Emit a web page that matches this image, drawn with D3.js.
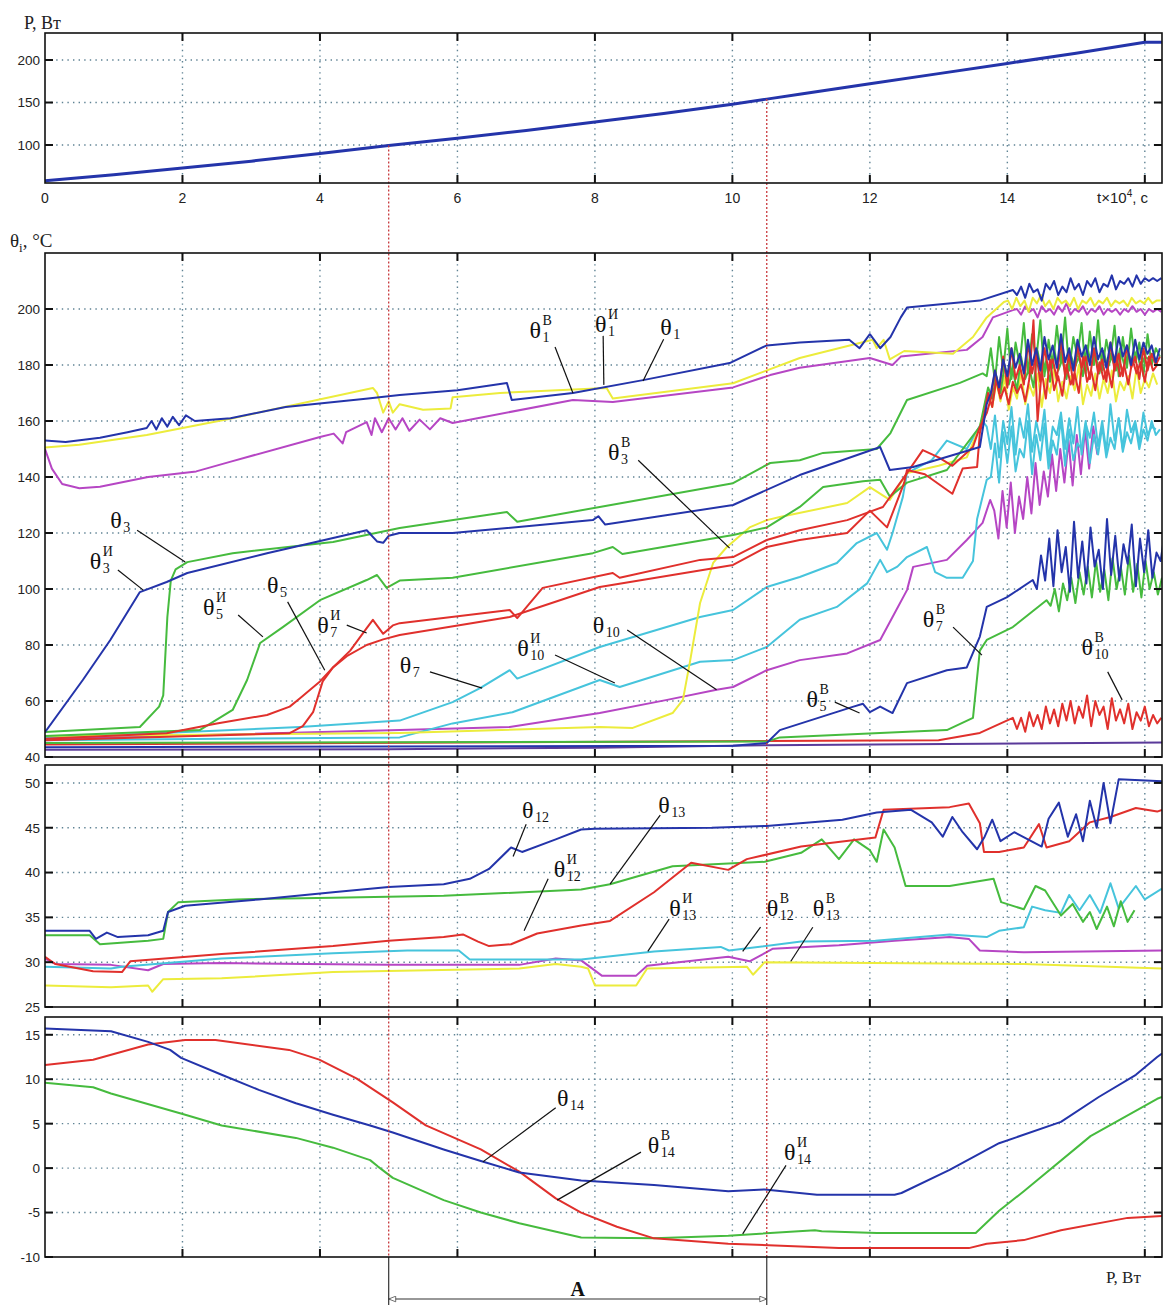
<!DOCTYPE html>
<html>
<head>
<meta charset="utf-8">
<script src="https://cdn.jsdelivr.net/npm/d3@7"></script>
<style>
  body { margin: 0; background: #fff; }
</style>
</head>
<body>
<svg id="chart" width="1165" height="1305"></svg>
<script>
const T_MAX = 16.25
const BLUE = "#2434aa", GREEN = "#46bb3e", RED = "#e0302c", YELLOW = "#ecec3c",
  MAGENTA = "#b646c4", CYAN = "#46c4dc", PURPLE = "#5a3a9a"
const SERIF = "'Liberation Serif','Times New Roman',serif"
const SANS = "'Liberation Sans',Arial,sans-serif"
const TAIL_STEP = 0.06

// top panel: power vs time
const powerT = [0, 1, 2, 3, 4, 5, 6, 7, 8, 9, 10, 10.5, 11, 12, 13, 14, 15, 16, 16.25]
const powerP = [58, 65, 73, 81, 90, 99.5, 108, 117, 127, 137, 148, 154, 160, 172, 184, 196, 208, 221, 221]

const xTickLabels = [0, 2, 4, 6, 8, 10, 12, 14]
const xGrid = [2, 4, 6, 8, 10, 12, 14, 16]
const pTicks = [100, 150, 200]
const thTicks = [40, 60, 80, 100, 120, 140, 160, 180, 200]
const midTicks = [25, 30, 35, 40, 45, 50]
const lowTicks = [-10, -5, 0, 5, 10, 15]
const markT = [5, 10.5]

// panel 2 series: [t, °C]
const th1 = [[0,153],[0.3,152.5],[0.8,154],[1.2,156],[1.48,157.5],[1.55,160],[1.62,157],[1.7,161],[1.78,158],[1.86,161.5],[1.95,158.5],[2.05,162],[2.18,160],[2.7,161],[3.5,165],[4.7,168],[5.16,169.3],[6.0,171],[6.72,173.6],[6.79,167.5],[7.68,170],[8.7,174.6],[9.96,180.7],[10.5,187],[10.98,188],[11.7,189],[11.85,186],[12.0,191],[12.15,186],[12.3,190],[12.45,197],[12.54,200.5],[13.6,203],[14.08,206.8]]
const th1Tail = [205,208,204,209,206,207,203,209,207,210,205,208,206,211,207,209,205,210,208,211,206,209,208,212,207,210,209,211,208,212,209,211,210,211,210,211]
const th1B = [[0,150.5],[0.5,151.5],[1.48,155],[2.73,161],[4.77,171.8],[4.83,170],[4.92,163],[5.0,167],[5.06,163],[5.16,166],[5.5,164],[5.9,164.5],[5.93,168.5],[6.62,170],[8.17,171.8],[8.26,168],[10.01,173.5],[10.98,182.5],[12.04,189],[12.1,186],[12.2,189],[12.29,182],[12.5,185],[13.21,184],[13.5,190],[13.7,197],[13.95,202.5]]
const th1BTail = [203,200,204,201,203,199,204,202,205,201,203,200,204,202,203,201,204,200,203,202,204,201,203,202,204,201,203,202,203,201,204,202,203,202,204,202,203,203]
const th1I = [[0,150],[0.1,143],[0.25,137.5],[0.5,136],[0.8,136.5],[1.5,140],[2.2,142],[2.69,145.4],[4.0,154.3],[4.2,155.5],[4.33,152],[4.38,156],[4.68,159.6],[4.75,155],[4.8,161],[4.9,156],[5.0,161],[5.1,157],[5.2,161],[5.3,156.5],[5.45,160.5],[5.6,157],[5.75,161],[5.93,159.3],[7.68,167.5],[8.26,166.8],[10.01,172],[10.55,176.4],[10.98,179],[12.0,182.5],[12.33,180],[12.45,183],[13.41,185.4],[13.64,190],[13.79,197],[14.08,199.6]]
const th1ITail = [200,198,201,199,200,197,201,199,200,198,201,199,202,198,200,199,201,198,200,199,201,198,200,199,200,198,200,199,201,199,200,198,200,199,200,199]
const th3 = [[0,48.9],[1.38,50.7],[1.66,58],[1.72,62],[1.78,90],[1.83,103],[1.9,107],[2.07,109.6],[2.73,112.8],[4.19,116.8],[5.16,121.8],[6.72,127.5],[6.87,124],[8.07,129.3],[10.01,137.8],[10.55,145],[10.98,146],[11.32,148.6],[12.1,150],[12.3,155.7],[12.54,167.5],[13.31,173.6],[13.64,177]]
const th3Tail = [176,186,174,190,178,193,175,188,180,195,177,191,182,196,176,189,179,194,181,197,178,190,183,195,177,192,180,196,178,189,182,194,176,190,179,193,181,188,176,191,180,186,183]
const th3I = [[0,48.9],[0.55,67.5],[0.95,81.8],[1.38,98.9],[1.77,102.5],[2.07,105.7],[3.23,112.8],[4.68,121],[4.83,117],[4.92,116.5],[5.0,119],[5.16,120],[5.93,120],[7.97,124.6],[8.05,126],[8.15,123],[10.01,130],[10.98,140.7],[12.15,150.7],[12.29,142.5],[12.63,143.6],[13.6,150.7],[13.7,166]]
const th3ITail = [170,178,172,182,176,186,179,184,177,189,180,186,178,190,182,187,179,191,181,186,178,189,183,187,180,190,182,186,179,188,181,190,183,187,180,189,182,188,184,187,181,186]
const th5I = [[0,47.5],[2.25,49.6],[2.73,56.8],[2.94,67.5],[3.13,80.7],[3.46,86.4],[4.0,96],[4.68,103.2],[4.83,105],[4.97,100.4],[5.16,103],[5.93,104],[7.97,112.8],[8.26,115],[8.4,112.5],[10.01,119.3],[10.5,122],[10.98,129.3],[11.32,136.4],[11.9,138.5],[12.15,139],[12.29,133],[12.54,138],[13.12,142.5],[13.6,158]]
const th5ITail = [165,172,168,176,170,180,173,178,171,183,175,179,172,185,177,181,174,186,178,182,175,184,179,183,176,187,180,184,177,185,179,183,178,186,180,184,181,185,179,183,182,184,180]
const th7I = [[0,46.5],[1.77,48.5],[2.5,52],[3.23,55],[3.56,58],[3.71,61],[4.0,67],[4.19,72],[4.44,78],[4.68,86],[4.77,89],[4.92,84],[5.06,87],[5.16,87.8],[6.76,92.5],[6.87,89.6],[7.24,100.4],[8.26,105.7],[8.36,104],[9.53,110.4],[10.01,111.4],[10.5,117.5],[10.98,121],[11.67,124.6],[12.19,129.3],[12.54,141.4],[12.77,149.6],[13.0,147],[13.2,144],[13.5,150.7],[13.6,157.9],[13.7,162.8]]
const th7ITail = [168,178,170,183,172,186,175,180,173,188,177,184,174,186,178,182,175,189,176,184,173,187,179,183,175,186,177,182,174,188,178,184,176,187,179,183,175,186,178,184,180,183]
const th5 = [[0,46],[3.56,48.5],[3.75,51],[3.9,56],[4.04,67],[4.19,72],[4.39,76],[4.68,80],[4.92,82],[5.16,83.6],[6.76,90],[8.07,100.7],[10.01,108.6],[10.5,115],[10.98,117.5],[11.67,120],[12.0,128],[12.25,122],[12.5,138],[12.54,142.5],[12.8,141],[13.2,134],[13.35,143],[13.56,143.6],[13.6,155.7]]
const th5Tail = [162,170,165,175,168,172,166,174,170,173,167,175,196,160,178,168,182,171,176,169,180,173,177,170,183,174,178,171,181,175,179,172,184,176,180,173,182,177,181,174,183,178,180]
const th3B = [[0,47.5],[5.16,48.6],[8.07,50.7],[8.55,50.4],[9.13,55.7],[9.28,60.4],[9.38,73.6],[9.53,95],[9.72,109.3],[9.92,115],[10.25,122],[10.5,124.6],[10.69,125.7],[11.67,130.7],[12.0,136.4],[12.29,131.8],[12.54,141.4],[13.0,144],[13.41,147],[13.6,158]]
const th3BTail = [163,170,165,174,167,176,164,172,168,178,166,173,169,177,165,175,170,179,167,174,168,176,171,180,166,173,169,177,168,175,170,178,167,174,171,176,168,179,170,175,172,177,173]
const th7 = [[0,46.8],[3.71,50.7],[5.16,53],[5.93,59.6],[6.33,64.6],[6.76,71],[6.87,68],[8.07,79.3],[9.53,90],[10.01,92.5],[10.5,100.7],[10.98,104.3],[11.52,109.3],[11.81,116.4],[12.1,120],[12.25,114],[12.33,120],[12.48,132.9],[12.54,141.4],[12.9,146],[13.12,153],[13.41,150],[13.64,160]]
const th7Tail = [158,150,162,147,160,152,165,148,161,154,166,149,160,153,164,146,158,155,163,150,161,152,165,148,159,154,163,151,160,149,166,153,161,150,164,156,160,152,163,155,158,157]
const th10I = [[0,46],[5.16,47],[5.93,52],[6.8,56],[8.07,67.5],[8.36,65],[9.53,74],[10.01,74.6],[10.5,79.3],[10.98,89],[11.52,93.6],[11.96,102],[12.15,110.4],[12.25,106],[12.4,108],[12.54,111.4],[12.83,115],[12.95,106],[13.12,104],[13.35,104],[13.5,110],[13.56,125],[13.7,139]]
const th10ITail = [140,152,138,156,145,158,142,150,147,160,141,155,146,159,143,153,148,161,144,157,146,152,150,160,145,155,148,158,147,154,150,161,149,156,152,159,150,157,153,160,155,157]
const th10 = [[0,46.5],[5.16,49.6],[6.76,50.7],[8.07,55.7],[9.05,60.4],[9.77,64],[10.01,65],[10.5,71],[10.98,74.6],[11.67,77],[12.15,81.8],[12.33,90],[12.54,99.6],[12.63,107.9],[13.12,110.4],[13.41,117.5],[13.64,123.6],[13.75,131.8]]
const th10Tail = [128,118,135,122,138,120,133,125,140,127,145,130,142,133,148,135,150,138,153,137,155,141,157,143,158,148]
const th5B = [[0,43.5],[10.01,44],[10.5,45],[10.69,49.6],[11.75,57.9],[11.9,59],[12.0,56],[12.15,58],[12.33,55.7],[12.54,66.4],[13.12,71],[13.41,72],[13.6,83],[13.7,93.6],[13.99,97],[14.37,103.2]]
const th5BTail = [100,112,103,118,101,121,106,115,99,124,104,117,102,122,108,114,100,125,105,119,103,116,109,123,101,118,106,121,104,113,110,120]
const th7B = [[0,45],[10.5,45.5],[10.69,47],[13.12,49.6],[13.5,54],[13.6,78],[13.7,81.8],[14.08,86.4],[14.57,96]]
const th7BTail = [94,100,92,102,96,104,95,106,98,108,97,110,99,107,96,111,100,108,98,112,99,109,97,110,100,106,98,104]
const th10B = [[0,44.5],[13.0,46],[13.6,48.6],[14.08,54]]
const th10BTail = [50,54,49,56,51,55,50,58,52,57,51,59,53,60,52,58,54,62,51,60,55,58,50,61,53,57,52,59,50,56,53,58,51,55,52,54]
const thBase = [[0,42.6],[5,42.8],[8,43.3],[10.5,44.2],[16.25,45.2]]

// panel 3 series
const th12 = [[0,33.5],[0.65,33.5],[0.74,32.6],[0.9,33.3],[1.06,32.8],[1.5,33],[1.72,33.5],[1.79,35.6],[2.04,36.3],[3.11,37],[4.19,37.8],[5.0,38.4],[5.8,38.7],[6.18,39.3],[6.46,40.4],[6.78,42.8],[6.94,42.3],[7.43,43.7],[7.8,44.8],[8.0,44.9],[9.7,45],[10.5,45.2],[11.6,45.9],[12.1,46.7],[12.6,47],[12.9,45.6],[13.06,44],[13.2,46.2],[13.35,44.5],[13.56,42.6],[13.67,44],[13.78,45.9],[13.9,43.5],[14.1,44.5],[14.5,42.9],[14.6,46],[14.75,47.8],[14.88,44],[15.0,46.5],[15.1,43.5],[15.2,48],[15.3,45],[15.4,50],[15.5,45.5],[15.62,50.4],[16.25,50.2]]
const th13 = [[0,33],[0.65,33],[0.8,32],[1.5,32.4],[1.72,32.6],[1.79,35.6],[1.94,36.7],[2.79,37],[4.19,37.2],[5.8,37.4],[7.8,38.1],[8.22,38.7],[9.13,40.7],[10.47,41.2],[11.0,42.2],[11.3,43.7],[11.55,41.5],[11.77,43.7],[12.0,42.5],[12.1,41.2],[12.2,44.8],[12.36,42.8],[12.52,38.5],[13.16,38.5],[13.8,39.3],[13.91,36.7],[14.24,35.9],[14.41,38.5],[14.55,38],[14.78,35.2],[14.95,36.5],[15.1,34.5],[15.2,35.6],[15.3,33.7],[15.45,36.2],[15.55,34],[15.65,36.8],[15.75,34.5],[15.85,35.8]]
const th12I = [[0,30.6],[0.15,29.8],[0.7,29],[1.12,28.9],[1.24,30.1],[2.57,30.9],[4.19,31.8],[5.0,32.4],[5.8,32.8],[6.08,33.1],[6.3,32.3],[6.46,31.8],[6.78,32],[7.16,33.2],[7.8,34.1],[8.22,34.6],[8.86,37.8],[9.4,41.1],[9.94,40.3],[10.21,41.5],[11.0,42.9],[12.08,43.9],[12.2,47],[13.16,47.3],[13.44,47.7],[13.6,45.5],[13.66,42.3],[13.88,42.3],[14.24,42.8],[14.46,45.4],[14.57,42.8],[14.9,43.5],[15.2,45.6],[15.5,46.2],[15.87,47.2],[16.18,46.8],[16.25,47]]
const th13I = [[0,29.5],[0.96,29.3],[1.12,29.5],[2.57,30.4],[4.19,31],[5.27,31.3],[6.02,31.3],[6.18,30.3],[7.8,30.3],[8.86,31.2],[9.83,31.7],[9.95,31.3],[11.0,32.3],[12.08,32.4],[13.16,33.1],[13.7,32.8],[13.88,33.5],[14.24,33.9],[14.36,36.2],[14.55,35.8],[14.78,35.5],[14.9,37.5],[15.05,35.8],[15.2,37.5],[15.35,35.5],[15.5,38.8],[15.62,36],[15.87,38.5],[16.0,37],[16.25,38.2]]
const th12B = [[0,30.4],[0.15,29.8],[0.96,29.7],[1.5,29.1],[1.72,29.8],[2.57,29.9],[5.0,29.7],[6.9,29.7],[7.43,30.4],[7.8,30.2],[8.1,28.5],[8.6,28.5],[8.76,29.6],[9.94,30.6],[10.25,30.1],[10.59,31.5],[11.55,31.9],[12.36,32.4],[13.16,32.8],[13.44,32.6],[13.6,31.3],[14.24,31.1],[16.25,31.3]]
const th13B = [[0,27.4],[0.96,27.2],[1.5,27.4],[1.56,26.7],[1.72,28.1],[2.57,28.2],[4.19,28.9],[6.9,29.3],[7.43,29.8],[7.8,29.5],[7.9,29.3],[8.0,27.4],[8.6,27.4],[8.76,29.3],[10.21,29.5],[10.3,28.6],[10.47,30],[14.24,29.8],[16.25,29.3]]

// panel 4 series
const th14 = [[0,15.7],[0.96,15.4],[1.5,14.2],[1.82,13.3],[1.98,12.4],[2.57,10.5],[3.11,8.8],[3.65,7.3],[4.19,6],[4.73,4.8],[5.06,4],[5.8,2.1],[6.34,0.8],[6.9,-0.5],[7.8,-1.4],[8.86,-1.9],[9.94,-2.6],[10.47,-2.4],[11.23,-3],[12.36,-3],[12.46,-2.8],[13.16,-0.2],[13.88,2.8],[14.78,5.2],[15.33,8],[15.87,10.5],[16.18,12.5],[16.25,12.9]]
const th14B = [[0,11.6],[0.7,12.2],[1.5,13.9],[2.04,14.4],[2.48,14.4],[3.55,13.3],[3.99,12.2],[4.53,10.1],[5.06,7.4],[5.54,4.8],[6.34,2.1],[6.9,-0.4],[7.43,-3.4],[7.8,-5],[8.32,-6.6],[8.86,-7.9],[9.94,-8.5],[11.55,-9],[13.44,-9],[13.7,-8.5],[14.24,-8.1],[14.78,-7],[15.75,-5.6],[16.25,-5.4]]
const th14I = [[0,9.6],[0.7,9.1],[0.96,8.4],[2.04,6],[2.57,4.8],[3.65,3.4],[4.19,2.3],[4.73,0.9],[4.84,0.2],[5.06,-1.1],[5.8,-3.6],[6.34,-5],[6.9,-6.2],[7.8,-7.8],[8.86,-7.9],[9.94,-7.6],[11.2,-7],[11.3,-7.1],[12.1,-7.3],[13.54,-7.3],[13.88,-4.8],[14.24,-2.6],[15.21,3.6],[16.18,7.8],[16.25,8]]

// labels: θ position, leader from / to, all in data units
const labels2 = [
  {t: 7.05, v: 189.6, sub: "1", sup: "В", from: [7.42, 186.4], to: [7.68, 170]},
  {t: 8.0, v: 191.8, sub: "1", sup: "И", from: [8.12, 190.4], to: [8.13, 172.9]},
  {t: 8.95, v: 190.7, sub: "1", sup: "", from: [9.0, 189.2], to: [8.7, 174.3]},
  {t: 8.19, v: 146, sub: "3", sup: "В", from: [8.63, 146], to: [9.96, 114.6]},
  {t: 0.95, v: 121.8, sub: "3", sup: "", from: [1.34, 121], to: [2.04, 109.6]},
  {t: 0.65, v: 107.1, sub: "3", sup: "И", from: [1.06, 106.8], to: [1.43, 99.6]},
  {t: 2.3, v: 90.7, sub: "5", sup: "И", from: [2.81, 90.7], to: [3.17, 82.9]},
  {t: 3.23, v: 98.6, sub: "5", sup: "", from: [3.53, 95.4], to: [4.07, 71]},
  {t: 3.96, v: 84.3, sub: "7", sup: "И", from: [4.39, 87.1], to: [4.68, 84.3]},
  {t: 5.16, v: 70, sub: "7", sup: "", from: [5.6, 70.4], to: [6.36, 64.6]},
  {t: 6.87, v: 76, sub: "10", sup: "И", from: [7.42, 76.4], to: [8.29, 66.4]},
  {t: 7.97, v: 84.3, sub: "10", sup: "", from: [8.47, 85.4], to: [9.77, 64]},
  {t: 12.77, v: 86.4, sub: "7", sup: "В", from: [13.21, 86.4], to: [13.63, 76.4]},
  {t: 11.08, v: 57.9, sub: "5", sup: "В", from: [11.49, 59.6], to: [11.85, 55.7]},
  {t: 15.08, v: 76.4, sub: "10", sup: "В", from: [15.46, 70.4], to: [15.67, 60.4]}
]
const labels3 = [
  {t: 6.94, v: 46.1, sub: "12", sup: "", from: [7.0, 45.4], to: [6.81, 41.8]},
  {t: 8.92, v: 46.7, sub: "13", sup: "", from: [8.95, 46.4], to: [8.22, 38.7]},
  {t: 7.4, v: 39.5, sub: "12", sup: "И", from: [7.32, 39.3], to: [6.97, 33.5]},
  {t: 9.08, v: 35.2, sub: "13", sup: "И", from: [9.08, 34.8], to: [8.77, 31.2]},
  {t: 10.5, v: 35.2, sub: "12", sup: "В", from: [10.41, 33.9], to: [10.15, 31.2]},
  {t: 11.17, v: 35.2, sub: "13", sup: "В", from: [11.17, 33.9], to: [10.85, 30.1]}
]
const labels4 = [
  {t: 7.45, v: 7, sub: "14", sup: "", from: [7.43, 6.8], to: [6.37, 0.7]},
  {t: 8.77, v: 1.7, sub: "14", sup: "В", from: [8.67, 1.8], to: [7.45, -3.6]},
  {t: 10.75, v: 0.9, sub: "14", sup: "И", from: [10.78, 0.3], to: [10.15, -7.4]}
]

function withTail(pts, tail) {
  if (!tail) return pts
  const t0 = pts[pts.length - 1][0] + TAIL_STEP
  return pts.concat(tail.map((v, i) => [t0 + i * TAIL_STEP, v]))
}

const panels = [
  {top: 33, bottom: 183, domain: [55.3, 231.8], ticks: pTicks, labels: [],
    series: [{d: powerT.map((t, i) => [t, powerP[i]]), c: BLUE, w: 3}]},
  {top: 253, bottom: 757, domain: [40, 220], ticks: thTicks, labels: labels2,
    series: [
      {d: thBase, c: PURPLE}, {d: withTail(th10B, th10BTail), c: RED},
      {d: withTail(th7B, th7BTail), c: GREEN}, {d: withTail(th5B, th5BTail), c: BLUE},
      {d: withTail(th10, th10Tail), c: MAGENTA}, {d: withTail(th10I, th10ITail), c: CYAN},
      {d: withTail(th7, th7Tail), c: CYAN}, {d: withTail(th3B, th3BTail), c: YELLOW},
      {d: withTail(th5I, th5ITail), c: GREEN}, {d: withTail(th3, th3Tail), c: GREEN},
      {d: withTail(th5, th5Tail), c: RED}, {d: withTail(th7I, th7ITail), c: RED},
      {d: withTail(th3I, th3ITail), c: BLUE}, {d: withTail(th1I, th1ITail), c: MAGENTA},
      {d: withTail(th1B, th1BTail), c: YELLOW}, {d: withTail(th1, th1Tail), c: BLUE}
    ]},
  {top: 765, bottom: 1007, domain: [25, 52], ticks: midTicks, labels: labels3,
    series: [
      {d: th13B, c: YELLOW}, {d: th12B, c: MAGENTA}, {d: th13I, c: CYAN},
      {d: th13, c: GREEN}, {d: th12I, c: RED}, {d: th12, c: BLUE}
    ]},
  {top: 1017, bottom: 1257, domain: [-10, 17], ticks: lowTicks, labels: labels4,
    series: [{d: th14I, c: GREEN}, {d: th14B, c: RED}, {d: th14, c: BLUE}]}
]

const svg = d3.select("#chart")
const x = d3.scaleLinear().domain([0, T_MAX]).range([45, 1162])
const defs = svg.append("defs")

panels.forEach((p, i) => {
  p.y = d3.scaleLinear().domain(p.domain).range([p.bottom, p.top])
  defs.append("clipPath").attr("id", "clip" + i).append("rect")
    .attr("x", x(0)).attr("y", p.top).attr("width", x(T_MAX) - x(0)).attr("height", p.bottom - p.top)

  const g = svg.append("g")
  // grid
  g.selectAll(".vg").data(xGrid).enter().append("line")
    .attr("x1", d => x(d)).attr("x2", d => x(d)).attr("y1", p.top).attr("y2", p.bottom)
    .attr("stroke", "#5f8394").attr("stroke-width", 1.4).attr("stroke-dasharray", "1.4,4.2")
  g.selectAll(".hg").data(p.ticks.filter(v => v > p.domain[0] + 0.5)).enter().append("line")
    .attr("x1", x(0)).attr("x2", x(T_MAX)).attr("y1", d => p.y(d)).attr("y2", d => p.y(d))
    .attr("stroke", "#5f8394").attr("stroke-width", 1.4).attr("stroke-dasharray", "1.4,4.2")

  const line = d3.line().x(d => x(d[0])).y(d => p.y(d[1]))
  g.append("g").attr("clip-path", `url(#clip${i})`)
    .selectAll("path").data(p.series).enter().append("path")
    .attr("d", s => line(s.d)).attr("fill", "none")
    .attr("stroke", s => s.c).attr("stroke-width", s => s.w || 2)
    .attr("stroke-linejoin", "round")
})

// red dotted markers from the power curve down through all panels
const pY = panels[0].y
const powerAt = t => d3.scaleLinear().domain(powerT).range(powerP)(t)
svg.selectAll(".mark").data(markT).enter().append("line")
  .attr("x1", d => x(d)).attr("x2", d => x(d))
  .attr("y1", d => pY(powerAt(d))).attr("y2", panels[3].bottom)
  .attr("stroke", "#c8383c").attr("stroke-width", 1.3).attr("stroke-dasharray", "2,2")
svg.selectAll(".markb").data(markT).enter().append("line")
  .attr("x1", d => x(d)).attr("x2", d => x(d))
  .attr("y1", panels[3].bottom).attr("y2", 1305)
  .attr("stroke", "#333").attr("stroke-width", 1.2)

// frames, ticks, tick labels
panels.forEach((p, i) => {
  const g = svg.append("g")
  g.append("rect").attr("x", x(0)).attr("y", p.top)
    .attr("width", x(T_MAX) - x(0)).attr("height", p.bottom - p.top)
    .attr("fill", "none").attr("stroke", "#111").attr("stroke-width", 1.6)
  const tk = 8
  xGrid.forEach(t => {
    g.append("line").attr("x1", x(t)).attr("x2", x(t)).attr("y1", p.top).attr("y2", p.top + tk)
      .attr("stroke", "#111").attr("stroke-width", 2)
    g.append("line").attr("x1", x(t)).attr("x2", x(t)).attr("y1", p.bottom).attr("y2", p.bottom - tk)
      .attr("stroke", "#111").attr("stroke-width", 2)
  })
  p.ticks.forEach(v => {
    g.append("line").attr("x1", x(0)).attr("x2", x(0) + tk).attr("y1", p.y(v)).attr("y2", p.y(v))
      .attr("stroke", "#111").attr("stroke-width", 2)
    g.append("line").attr("x1", x(T_MAX)).attr("x2", x(T_MAX) - tk).attr("y1", p.y(v)).attr("y2", p.y(v))
      .attr("stroke", "#111").attr("stroke-width", 2)
  })
  g.selectAll(".yl").data(p.ticks).enter().append("text")
    .attr("x", 40).attr("y", d => p.y(d)).attr("dy", "0.36em")
    .attr("text-anchor", "end").attr("font-family", SANS).attr("font-size", 13.5)
    .attr("fill", "#222").text(d => d)

  // curve labels
  p.labels.forEach(l => {
    const lx = x(l.t), ly = p.y(l.v)
    g.append("line").attr("x1", x(l.from[0])).attr("y1", p.y(l.from[1]))
      .attr("x2", x(l.to[0])).attr("y2", p.y(l.to[1]))
      .attr("stroke", "#111").attr("stroke-width", 1.2)
    g.append("text").attr("x", lx).attr("y", ly).attr("font-family", SERIF)
      .attr("font-size", 24).attr("fill", "#111").text("θ")
    g.append("text").attr("x", lx + 13).attr("y", ly + 4).attr("font-family", SERIF)
      .attr("font-size", 14).attr("fill", "#111").text(l.sub)
    if (l.sup) g.append("text").attr("x", lx + 13).attr("y", ly - 13).attr("font-family", SERIF)
      .attr("font-size", 14).attr("fill", "#111").text(l.sup)
  })
})

// top x tick labels
svg.selectAll(".xl").data(xTickLabels).enter().append("text")
  .attr("x", d => x(d)).attr("y", 203).attr("text-anchor", "middle")
  .attr("font-family", SANS).attr("font-size", 14).attr("fill", "#222").text(d => d)

const tl = svg.append("text").attr("x", 1097).attr("y", 203)
  .attr("font-family", SANS).attr("font-size", 15).attr("fill", "#222")
tl.append("tspan").text("t×10")
tl.append("tspan").attr("dy", -6).attr("font-size", 10).text("4")
tl.append("tspan").attr("dy", 6).text(", c")

svg.append("text").attr("x", 24).attr("y", 29).attr("font-family", SERIF)
  .attr("font-size", 18).attr("fill", "#222").text("P, Вт")

const ty = svg.append("text").attr("x", 10).attr("y", 247).attr("font-family", SERIF)
  .attr("font-size", 19).attr("fill", "#222")
ty.append("tspan").text("θ")
ty.append("tspan").attr("dy", 5).attr("font-size", 13).text("i")
ty.append("tspan").attr("dy", -5).text(", °C")

svg.append("text").attr("x", 1106).attr("y", 1283).attr("font-family", SERIF)
  .attr("font-size", 17).attr("fill", "#222").text("P, Вт")

// interval A
defs.append("marker").attr("id", "arr").attr("viewBox", "0 0 10 10")
  .attr("refX", 10).attr("refY", 5).attr("markerWidth", 11).attr("markerHeight", 7)
  .attr("orient", "auto-start-reverse").attr("markerUnits", "userSpaceOnUse")
  .append("path").attr("d", "M0,1 L10,5 L0,9 Z").attr("fill", "#fff").attr("stroke", "#333")
svg.append("line").attr("x1", x(markT[0])).attr("x2", x(markT[1])).attr("y1", 1299).attr("y2", 1299)
  .attr("stroke", "#333").attr("stroke-width", 1.2)
  .attr("marker-start", "url(#arr)").attr("marker-end", "url(#arr)")
svg.append("text").attr("x", x((markT[0] + markT[1]) / 2)).attr("y", 1296)
  .attr("text-anchor", "middle").attr("font-family", SERIF).attr("font-weight", "bold")
  .attr("font-size", 20).attr("fill", "#111").text("A")
</script>
</body>
</html>
